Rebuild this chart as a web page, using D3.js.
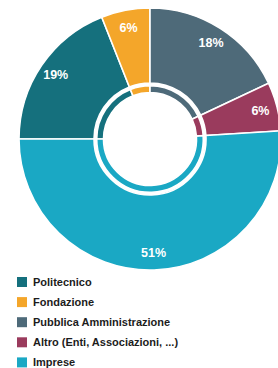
<!DOCTYPE html>
<html><head><meta charset="utf-8">
<script src="https://cdn.jsdelivr.net/npm/d3@7"></script>
<style>html,body{margin:0;padding:0;background:#fff;overflow:hidden}</style>
</head><body>
<svg id="c" width="278" height="368"></svg>
<script>
const categories = ["Politecnico","Fondazione","Pubblica Amministrazione","Altro (Enti, Associazioni, ...)","Imprese"];
const values = [19, 6, 18, 6, 51];
const colors = ["#15707d","#f4a62a","#4e6a79","#9a3b5d","#1aa8c4"];

const svg = d3.select("#c");
const cx = 150, cy = 139;
const g = svg.append("g").attr("transform", `translate(${cx},${cy})`);
const pie = d3.pie().sort(null).startAngle(-Math.PI/2).endAngle(1.5*Math.PI)(values);
const outer = d3.arc().innerRadius(56).outerRadius(131);
const inner = d3.arc().innerRadius(46.5).outerRadius(53.3);
const lab = d3.arc().innerRadius(98).outerRadius(130);

g.selectAll("path.o").data(pie).join("path").attr("class","o")
  .attr("d", outer).attr("fill",(d,i)=>colors[i]).attr("stroke","#fff").attr("stroke-width",1.6);
g.selectAll("path.i").data(pie).join("path").attr("class","i")
  .attr("d", inner).attr("fill",(d,i)=>colors[i]).attr("stroke","#fff").attr("stroke-width",1.6);
g.selectAll("text").data(pie).join("text")
  .attr("transform", d=>`translate(${lab.centroid(d)})`)
  .attr("text-anchor","middle").attr("dy","0.36em")
  .attr("fill","#fff").attr("font-family","Liberation Sans, Arial, sans-serif")
  .attr("font-weight","bold").attr("font-size",12.5)
  .text(d=>d.value+"%");

const leg = svg.append("g").attr("transform","translate(17,277)");
const row = leg.selectAll("g").data(categories).join("g").attr("transform",(d,i)=>`translate(0,${i*20.1})`);
row.append("rect").attr("width",10).attr("height",10).attr("fill",(d,i)=>colors[i]);
row.append("text").attr("x",16).attr("y",5).attr("dy","0.36em")
  .attr("fill","#1c1c1c").attr("font-family","Liberation Sans, Arial, sans-serif")
  .attr("font-weight","bold").attr("font-size",11).text(d=>d);
</script>
</body></html>
